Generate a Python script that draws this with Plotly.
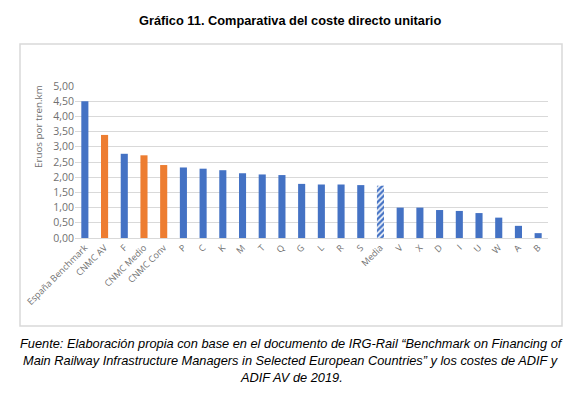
import plotly.graph_objects as go

categories = ["España Benchmark", "CNMC AV", "F", "CNMC Medio", "CNMC Conv", "P", "C", "K", "M", "T", "Q",
              "G", "L", "R", "S", "Media", "V", "X", "D", "I", "U", "W", "A", "B"]
values = [4.50, 3.39, 2.77, 2.72, 2.40, 2.32, 2.28, 2.23, 2.13, 2.09, 2.07,
          1.78, 1.76, 1.76, 1.74, 1.72, 1.00, 1.00, 0.92, 0.89, 0.82, 0.67, 0.40, 0.16]
groups = ["b", "o", "b", "o", "o", "b", "b", "b", "b", "b", "b",
          "b", "b", "b", "b", "m", "b", "b", "b", "b", "b", "b", "b", "b"]
y_ticks = [0, 0.5, 1, 1.5, 2, 2.5, 3, 3.5, 4, 4.5, 5]

BLUE = "#4472C4"
ORANGE = "#ED7D31"
GRAY = "#707070"
colors = [ORANGE if g == "o" else BLUE for g in groups]
solid_vals = [v if g != "m" else None for v, g in zip(values, groups)]
media_vals = [v if g == "m" else None for v, g in zip(values, groups)]

fig = go.Figure()
fig.add_trace(go.Bar(x=categories, y=solid_vals, marker=dict(color=colors, line=dict(width=0))))
fig.add_trace(go.Bar(x=categories, y=media_vals,
                     marker=dict(color="white", line=dict(width=0),
                                 pattern=dict(shape="/", fgcolor=BLUE, bgcolor="white",
                                              fillmode="replace", size=4, solidity=0.6))))

OFF = 8  # page body margin
W, H = 580 - OFF, 396 - OFF
L, R, T, B = 75 - OFF, 580 - 548, 86 - OFF, 396 - 238
pw, ph = W - L - R, H - T - B

def px(x):
    return (x - OFF - L) / pw

def py(y):
    return (H - B - (y - OFF)) / ph

cap_font = dict(family="Liberation Sans, Arial, sans-serif", size=12.8, color="black")

fig.update_layout(
    width=W, height=H,
    margin=dict(l=L, r=R, t=T, b=B, autoexpand=False),
    paper_bgcolor="white", plot_bgcolor="white",
    separators=",.",
    barmode="overlay",
    bargap=0.64,
    showlegend=False,
    font=dict(family="Open Sans, Liberation Sans, sans-serif", color=GRAY),
    xaxis=dict(tickangle=-45, tickfont=dict(size=9, color=GRAY), showgrid=False,
               showline=True, linecolor="#d9d9d9", ticks=""),
    yaxis=dict(range=[0, 5.0], tickvals=y_ticks, tickformat=".2f", tickfont=dict(size=10.5, color=GRAY),
               showgrid=True, gridcolor="#d9d9d9", gridwidth=1, zeroline=False, ticks="", ticklen=0),
    shapes=[dict(type="rect", xref="paper", yref="paper",
                 x0=px(20), x1=px(562), y0=py(326), y1=py(44),
                 line=dict(color="#d9d9d9", width=1.5), layer="below")],
    annotations=[
        dict(text="Eruos por tren.km", xref="paper", yref="paper", x=px(38), y=py(127),
             xanchor="center", yanchor="middle", textangle=-90, showarrow=False,
             font=dict(family="Open Sans, sans-serif", size=9.8, color=GRAY)),
        dict(text="<b>Gráfico 11. Comparativa del coste directo unitario</b>", xref="paper", yref="paper",
             x=px(290), y=py(20), xanchor="center", yanchor="middle", showarrow=False,
             font=dict(family="Liberation Sans, Arial, sans-serif", size=12.8, color="black")),
        dict(text="<i>Fuente: Elaboración propia con base en el documento de IRG-Rail “Benchmark on Financing of</i>",
             xref="paper", yref="paper", x=px(291), y=py(343), xanchor="center", yanchor="middle", showarrow=False,
             font=cap_font),
        dict(text="<i>Main Railway Infrastructure Managers in Selected European Countries” y los costes de ADIF y</i>",
             xref="paper", yref="paper", x=px(291), y=py(360), xanchor="center", yanchor="middle", showarrow=False,
             font=cap_font),
        dict(text="<i>ADIF AV de 2019.</i>",
             xref="paper", yref="paper", x=px(291), y=py(377), xanchor="center", yanchor="middle", showarrow=False,
             font=cap_font),
    ],
)

fig.write_html("out.html")
